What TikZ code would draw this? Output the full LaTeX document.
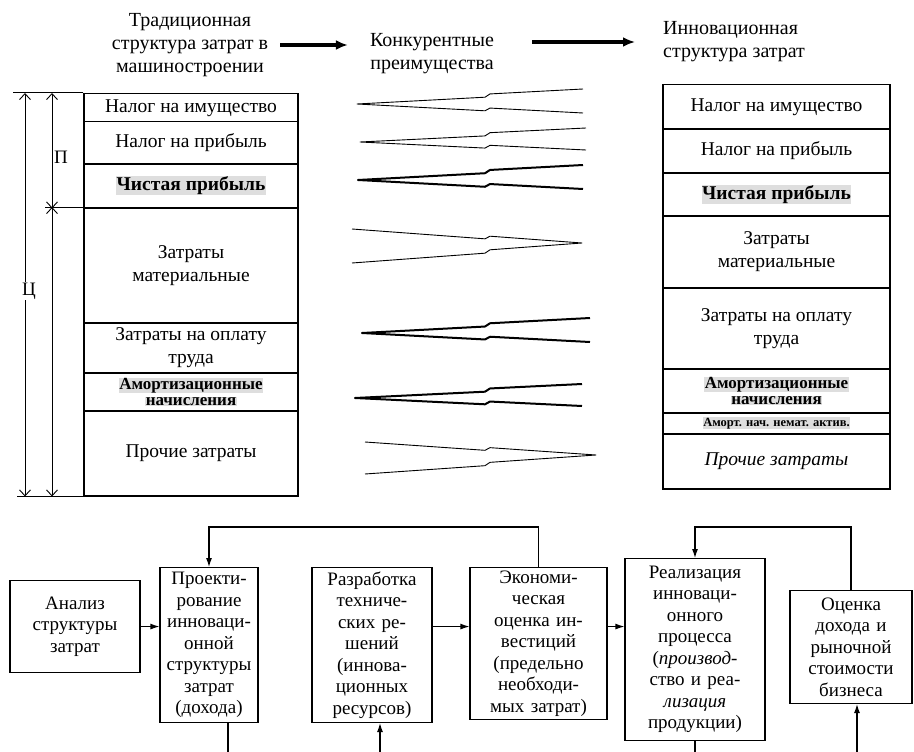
\documentclass[tikz,border=0pt]{standalone}
\usepackage{fontspec}
\setmainfont{Liberation Serif}
\usetikzlibrary{arrows.meta, positioning, calc}
\newcommand{\greybold}[1]{{\setlength{\fboxsep}{0.5pt}\colorbox{black!13}{\textbf{#1}}}}
\tikzset{
	tablecell/.style={draw=black, line width=1.5pt, inner sep=0pt, anchor=north, align=center},
	plaincell/.style={font=\fontsize{19.5}{23}\selectfont},
	tightcell/.style={font=\fontsize{17}{16}\selectfont},
	tinycell/.style={font=\fontsize{12.5}{13}\selectfont},
	heading/.style={align=center, inner sep=0pt, font=\fontsize{20}{23}\selectfont},
	stagebox/.style={draw=black, line width=1.1pt, inner sep=2pt, anchor=north, align=center, font=\fontsize{19}{21.5}\selectfont},
	bigarrow/.style={-{Latex[length=12pt, width=10pt]}, line width=3.2pt},
	flowarrow/.style={-{Latex[length=9pt, width=6pt]}, line width=1.1pt},
	dimarrow/.style={{Straight Barb[length=6pt, width=11pt]}-{Straight Barb[length=6pt, width=11pt]}, line width=0.9pt},
	dimlabel/.style={fill=white, inner sep=1pt, font=\fontsize{19}{21}\selectfont},
	thinwedge/.style={line width=0.9pt, line join=round},
	boldwedge/.style={line width=2pt, line join=round},
}

\begin{document}
\begin{tikzpicture}[x=1pt, y=-1pt]
	\useasboundingbox (0,0) rectangle (914,752);
	% headings
	\node[heading] (htrad) at (190,45) {Традиционная\\структура затрат в\\машиностроении};
	\node[heading] (hkonk) at (432,54) {Конкурентные\\преимущества};
	\node[heading, align=left, anchor=west] (hinnov) at (663,42) {Инновационная\\структура затрат};
	\draw[bigarrow] ([xshift=12pt]htrad.east) -- ([xshift=-22pt]htrad.east -| hkonk.west);
	\draw[bigarrow] ([xshift=38pt]hkonk.east |- hinnov.west) -- ([xshift=-28pt]hinnov.west);
	% traditional cost structure
	\foreach \nm/\ytop/\ybot/\sty/\txt in {
		limu/93/121/plaincell/{Налог на имущество},
		lnal/121/163/plaincell/{Налог на прибыль},
		lchist/163/207/plaincell/{\greybold{Чистая прибыль}},
		lmat/207/322/plaincell/{Затраты\\материальные},
		ltrud/322/372/plaincell/{Затраты на оплату\\труда},
		lamort/372/410/tightcell/{\greybold{Амортизационные}\\\greybold{начисления}},
		lproch/410/495/plaincell/{Прочие затраты}} {
		\node[tablecell, \sty, minimum width=214pt, minimum height={(\ybot-\ytop)*1pt}] (\nm) at (191,\ytop) {\txt};
	}
	% innovative cost structure
	\foreach \nm/\ytop/\ybot/\sty/\txt in {
		rimu/84/128/plaincell/{Налог на имущество},
		rnal/128/172/plaincell/{Налог на прибыль},
		rchist/172/215/plaincell/{\greybold{Чистая прибыль}},
		rmat/215/287/plaincell/{Затраты\\материальные},
		rtrud/287/368/plaincell/{Затраты на оплату\\труда},
		ramort/368/412/tightcell/{\greybold{Амортизационные}\\\greybold{начисления}},
		rnemat/412/433/tinycell/{\greybold{Аморт. нач. немат. актив.}},
		rproch/433/488/plaincell/{\textit{Прочие затраты}}} {
		\node[tablecell, \sty, minimum width=227pt, minimum height={(\ybot-\ytop)*1pt}] (\nm) at (776.5,\ytop) {\txt};
	}
	% dimension arrows
	\coordinate (outx) at (25,0);
	\coordinate (inx) at (52,0);
	\draw[line width=1pt] (limu.north west) -- ++(-70,0);
	\draw[line width=1pt] (lmat.north west) -- ++(-38,0);
	\draw[line width=1pt] (lproch.south west) -- ++(-66,0);
	\draw[dimarrow] (outx |- limu.north) -- (outx |- lproch.south);
	\draw[dimarrow] (inx |- limu.north) -- (inx |- lchist.south);
	\draw[dimarrow] (inx |- lmat.north) -- (inx |- lproch.south);
	\node[dimlabel] (prof) at (61,157) {П};
	\node[dimlabel] (price) at (29,291) {Ц};
	% competitive advantages
	\foreach \xt/\ya/\xo/\h/\wsty in {357/101/583/12/thinwedge, 360/139/586/11/thinwedge, 358/177/583/12/boldwedge,
		582/243/352/17/thinwedge, 362/330/590/12/boldwedge, 355/395/582/11/boldwedge, 596/455/365/16/thinwedge} {
		\pgfmathsetmacro\ka{\xt<487 ? 485 : 490}
		\pgfmathsetmacro\kb{\xt<487 ? 490 : 485}
		\pgfmathsetmacro\ta{(\ka-\xt)/(\xo-\xt)}
		\pgfmathsetmacro\tb{(\kb-\xt)/(\xo-\xt)}
		\pgfmathsetmacro\oa{\ka<487 ? 3 : 0}
		\pgfmathsetmacro\ob{\kb<487 ? 3 : 0}
		\pgfmathsetmacro\ot{\xt<487 ? 3 : 0}
		\pgfmathsetmacro\oo{\xo<487 ? 3 : 0}
		\draw[\wsty] (\xo,{\ya-\h+\oo}) -- (\kb,{\ya-\h*\tb+\ob}) -- (\ka,{\ya-\h*\ta+\oa}) -- (\xt,{\ya+\ot})
			-- (\ka,{\ya+\h*\ta+\oa}) -- (\kb,{\ya+\h*\tb+\ob}) -- (\xo,{\ya+\h+\oo});
	}
	% process stages
	\node[stagebox, text width=126pt, minimum height=92pt] (anal) at (75,580) {Анализ\\структуры\\затрат};
	\node[stagebox, text width=94pt, minimum height=155pt] (proekt) at (209,567) {Проекти-\\рование\\инноваци-\\онной\\структуры\\затрат\\(дохода)};
	\node[stagebox, text width=116pt, minimum height=155pt] (razr) at (372,567) {Разработка\\техниче-\\ских ре-\\шений\\(иннова-\\ционных\\ресурсов)};
	\node[stagebox, text width=133pt, minimum height=152pt] (econ) at (538.5,567) {Экономи-\\ческая\\оценка ин-\\вестиций\\(предельно\\необходи-\\мых затрат)};
	\node[stagebox, text width=136pt, minimum height=182pt] (real) at (695,558) {Реализация\\инноваци-\\онного\\процесса\\(\textit{производ-}\\ство и реа-\\\textit{лизация}\\продукции)};
	\node[stagebox, text width=118pt, minimum height=113pt] (ocen) at (851,590) {Оценка\\дохода и\\рыночной\\стоимости\\бизнеса};
	\draw[flowarrow] (anal.east) -- (anal.east -| proekt.west);
	\draw[flowarrow] (razr.east |- anal.east) -- (econ.west |- anal.east);
	\draw[flowarrow] (econ.east |- anal.east) -- (real.west |- anal.east);
	% feedback loops
	\coordinate (fbtop) at (0,527);
	\coordinate (fbbot) at (0,760);
	\draw[flowarrow] (econ.north) -- (econ.north |- fbtop) -| (proekt.north);
	\draw[flowarrow] (ocen.north) -- (ocen.north |- fbtop) -| (real.north);
	\draw[flowarrow] ([xshift=19pt]proekt.south) -- ([xshift=19pt]proekt.south |- fbbot) -| ([xshift=8pt]razr.south);
	\draw[flowarrow] (real.south) -- (real.south |- fbbot) -| ([xshift=6pt]ocen.south);
\end{tikzpicture}
\end{document}
